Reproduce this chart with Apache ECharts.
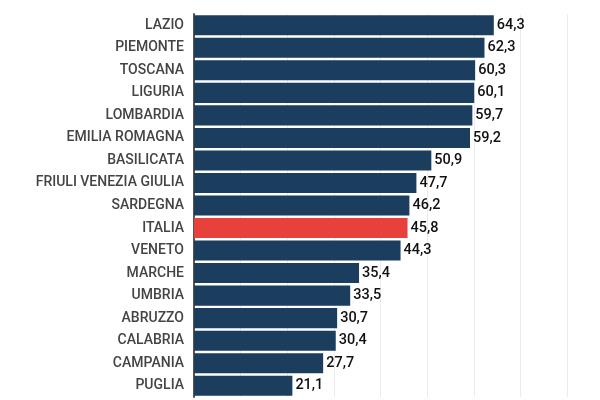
<!DOCTYPE html>
<html>
<head>
<meta charset="utf-8">
<script src="https://cdn.jsdelivr.net/npm/echarts@6/dist/echarts.min.js"></script>
<style>
  html, body { margin: 0; padding: 0; background: #fff; }
  #chart { width: 600px; height: 400px; }
</style>
</head>
<body>
<div id="chart"></div>
<script>
var regions = ['LAZIO', 'PIEMONTE', 'TOSCANA', 'LIGURIA', 'LOMBARDIA', 'EMILIA ROMAGNA',
    'BASILICATA', 'FRIULI VENEZIA GIULIA', 'SARDEGNA', 'ITALIA', 'VENETO', 'MARCHE',
    'UMBRIA', 'ABRUZZO', 'CALABRIA', 'CAMPANIA', 'PUGLIA'];
var values = [64.3, 62.3, 60.3, 60.1, 59.7, 59.2, 50.9, 47.7, 46.2, 45.8, 44.3, 35.4,
    33.5, 30.7, 30.4, 27.7, 21.1];
var highlight = 'ITALIA';

var dom = document.getElementById('chart');
var myChart = echarts.init(dom);

var option = {
    animation: false,
    grid: {
        left: 194,
        right: 33,
        top: 14,
        bottom: 3
    },
    xAxis: {
        type: 'value',
        min: 0,
        max: 80,
        interval: 10,
        axisLabel: { show: false },
        axisLine: { show: false },
        axisTick: { show: false },
        splitLine: { lineStyle: { color: '#ebebeb', width: 1 } }
    },
    yAxis: {
        type: 'category',
        inverse: true,
        data: regions,
        axisTick: { show: false },
        axisLine: { lineStyle: { color: '#555', width: 2 } },
        axisLabel: {
            color: '#444',
            fontFamily: 'Roboto',
            fontSize: 14,
            fontWeight: 500,
            margin: 10
        }
    },
    series: [{
        type: 'bar',
        barCategoryGap: '11%',
        data: values.map(function (v, i) {
            return {
                value: v,
                itemStyle: { color: regions[i] == highlight ? '#e8413c' : '#1b3d5e' }
            };
        }),
        label: {
            show: true,
            position: 'right',
            distance: 3,
            color: '#111',
            fontFamily: 'Roboto',
            fontSize: 14.5,
            fontWeight: 500,
            formatter: function (p) {
                return p.value.toFixed(1).replace('.', ',');
            }
        }
    }]
};

myChart.setOption(option);
</script>
</body>
</html>
